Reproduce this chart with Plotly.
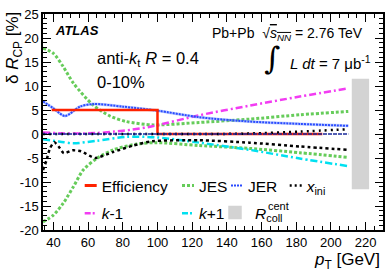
import plotly.graph_objects as go

# ---------------- data ----------------
pt_eff = [39, 100, 195]
eff = [5, 0, 0]

pt_jes_up = [34, 40, 45.7, 51.5, 63, 72.6, 82, 97.5, 124, 153, 182, 210]
jes_up = [17.9, 16.8, 14.0, 10.6, 6.0, 3.75, 2.6, 1.9, 2.4, 3.1, 4.0, 4.7]
pt_jes_lo = [34, 40, 45.7, 51.5, 57.2, 65, 74.5, 88, 99.4, 124, 153, 182, 210]
jes_lo = [-18.3, -16.9, -14.4, -11.0, -7.5, -5.1, -3.3, -2.1, -1.8, -2.4, -3.0, -3.9, -4.9]

pt_jer_up = [34, 40, 46.7, 55.3, 63, 80, 99.4, 124, 153, 182, 210]
jer_up = [6.8, 5.35, 3.75, 5.7, 6.25, 5.7, 4.9, 3.5, 2.6, 2.1, 1.7]
pt_jer_lo = [34, 210]
jer_lo = [0, 0]

pt_xini_up = [34, 100, 130, 153, 182, 210]
xini_up = [0, 0, 0, 0.1, 0.5, 1.0]
pt_xini_lo = [34, 36, 38, 40.5, 43, 46, 51, 56, 64, 74, 86, 97, 124, 153, 182, 210]
xini_lo = [-7.5, -5.5, -3.0, -1.7, -2.6, -4.0, -3.4, -3.6, -5.0, -3.8, -2.4, -1.5, -1.3, -1.8, -2.6, -3.3]

pt_km1 = [34, 50, 65, 75, 85, 97, 124, 153, 182, 210]
km1 = [0.3, 0.1, 0.2, 0.5, 0.9, 1.6, 3.9, 5.9, 7.8, 9.5]
pt_kp1 = [34, 43.9, 51.5, 65, 82, 99.4, 124, 153, 182, 210]
kp1 = [-1.1, -1.6, -1.95, -1.4, -0.6, -0.7, -1.8, -3.3, -5.1, -6.7]

rcoll_pt = [217]
rcoll_unc = [11.5]

x_ticks = [40, 60, 80, 100, 120, 140, 160, 180, 200, 220]
y_ticks = [-20, -15, -10, -5, 0, 5, 10, 15, 20, 25]
y_tick_labels = ["-20", "-15", "-10", "-5", "0", "5", "10", "15", "20", "25"]

# ---------------- style ----------------
FONT = "Liberation Sans, Arial, Helvetica, sans-serif"
RED = "#ff2200"
GREEN = "#66cc5a"
BLUE = "#2a4bff"
LBLUE = "rgba(120,150,255,0.45)"
MAG = "#f23cf2"
CYAN = "#00e0f0"
GREY = "#d3d3d3"

W, H = 390, 276
L, R, T, B = 43, 7, 14, 46


def px2x(px):
    return (px - L) / (W - L - R)


def py2y(py):
    return (H - B - py) / (H - T - B)


fig = go.Figure()

# R_coll band
fig.add_trace(go.Bar(x=rcoll_pt, y=[2 * u for u in rcoll_unc], base=[-u for u in rcoll_unc],
                     width=10, marker=dict(color=GREY, line=dict(width=0)),
                     showlegend=False, hoverinfo="skip"))


def curve(x, y, color, width, dash, smooth=0.8):
    fig.add_trace(go.Scatter(x=x, y=y, mode="lines", showlegend=False,
                             line=dict(color=color, width=width, dash=dash,
                                       shape="spline", smoothing=smooth),
                             hoverinfo="skip"))


curve(pt_jes_up, jes_up, GREEN, 3, "3px,2px")
curve(pt_jes_lo, jes_lo, GREEN, 3, "3px,2px")
curve(pt_km1, km1, MAG, 2.5, "7px,3px,2px,3px")
curve(pt_kp1, kp1, CYAN, 2.5, "7px,3px,2px,3px")
curve(pt_xini_lo, xini_lo, "black", 2.5, "3px,3px", 0.6)
curve(pt_jer_up, jer_up, LBLUE, 3, "solid")
curve(pt_jer_up, jer_up, BLUE, 2, "2px,1px")

fig.add_trace(go.Scatter(x=pt_eff, y=eff, mode="lines", showlegend=False,
                         line=dict(color=RED, width=2.5, shape="hv"), hoverinfo="skip"))
curve(pt_xini_up, xini_up, "black", 2.5, "2px,4px")
curve(pt_jer_lo, jer_lo, "#1a2a9a", 1.5, "4px,1px")

# ---------------- legend entries (no data, legend keys only) ----------------
def leg(name, color, width, dash, legend, group):
    fig.add_trace(go.Scatter(x=[None], y=[None], mode="lines", name=name,
                             line=dict(color=color, width=width, dash=dash),
                             legend=legend, legendgroup=group))


leg("Efficiency", RED, 3, "0px,18px,12px,30px", "legend", "a")
leg("<i>k</i>-1", MAG, 2.5, "0px,18px,6px,2px,2px,2px,30px", "legend", "b")
leg("JES", GREEN, 3, "0px,18px,3px,2px,3px,2px,3px,30px", "legend2", "c")
leg("<i>k</i>+1", CYAN, 2.5, "0px,18px,6px,2px,2px,2px,30px", "legend2", "d")
leg("JER", BLUE, 2, "0px,18px,2px,1px,2px,1px,2px,1px,2px,1px,2px,30px", "legend3", "e")
leg("<i>x</i><sub>ini</sub>", "black", 2.5, "0px,18px,2px,3px,2px,3px,2px,30px", "legend4", "g")
fig.add_trace(go.Bar(x=[None], y=[None], name="<i>R</i><sub>coll</sub>",
                     marker=dict(color=GREY, line=dict(color=GREY, width=1.5)),
                     legend="legend5", legendgroup="f"))

legfont = dict(family=FONT, size=15.5, color="black")
row1_top = 169
row_gap = 27


def legbox(text_px, top=row1_top):
    return dict(x=px2x(text_px - 40), y=py2y(top), xanchor="left", yanchor="top",
                bgcolor="rgba(0,0,0,0)", borderwidth=0, font=legfont,
                orientation="v", tracegroupgap=4.5, itemwidth=30)


fig.update_layout(
    legend=legbox(101.7),
    legend2=legbox(199),
    legend3=legbox(248),
    legend4=legbox(306.7),
    legend5=legbox(255, row1_top + row_gap),
)

# ---------------- annotations ----------------
ann = [
    dict(text="<b><i>ATLAS</i></b>", x=px2x(53), y=py2y(30), xanchor="left", yanchor="middle",
         font=dict(family=FONT, size=13)),
    dict(text="anti-<i>k</i><sub>t</sub> <i>R</i> = 0.4", x=px2x(95), y=py2y(59), xanchor="left",
         yanchor="middle", font=dict(family=FONT, size=16.5)),
    dict(text="0-10%", x=px2x(95), y=py2y(82), xanchor="left", yanchor="middle",
         font=dict(family=FONT, size=16.5)),
    dict(text="Pb+Pb  √<span style='text-decoration:overline'><i>s</i><sub><i>NN</i></sub></span> = 2.76 TeV",
         x=px2x(365), y=py2y(34), xanchor="right", yanchor="middle",
         font=dict(family=FONT, size=14)),
    dict(text="∫", x=px2x(272), y=py2y(58), xanchor="center", yanchor="middle",
         font=dict(family="DejaVu Serif, serif", size=31)),
    dict(text="<i>L dt</i> = 7 μb<sup>-1</sup>", x=px2x(373), y=py2y(62), xanchor="right",
         yanchor="middle", font=dict(family=FONT, size=15)),
    dict(text="cent", x=px2x(266), y=py2y(206), xanchor="left", yanchor="middle",
         font=dict(family=FONT, size=11)),
    dict(text="δ <i>R</i><sub>CP</sub> [%]", x=px2x(14), y=py2y(10), xanchor="center",
         yanchor="top", textangle=-90, font=dict(family=FONT, size=17)),
    dict(text="<i>p</i><sub>T</sub> [GeV]", x=px2x(382), y=py2y(261), xanchor="right",
         yanchor="middle", font=dict(family=FONT, size=17)),
]
for a in ann:
    a.update(xref="paper", yref="paper", showarrow=False)
    a["font"].setdefault("color", "black")

axis_common = dict(showgrid=False, zeroline=False, showline=True, linecolor="black",
                   linewidth=1.5, mirror="allticks", ticks="inside", ticklen=8,
                   tickwidth=1, tickcolor="black", automargin=False,
                   tickfont=dict(family=FONT, size=13, color="black"))

fig.update_layout(
    width=W, height=H,
    margin=dict(l=L, r=R, t=T, b=B, autoexpand=False),
    paper_bgcolor="white", plot_bgcolor="white",
    annotations=ann,
    barmode="overlay",
    xaxis=dict(range=[34, 230], tickmode="array", tickvals=x_ticks,
               minor=dict(tickmode="linear", tick0=0, dtick=5, ticklen=4, ticks="inside",
                          tickcolor="black"),
               **axis_common),
    yaxis=dict(range=[-20, 25], tickmode="array", tickvals=y_ticks, ticktext=y_tick_labels,
               minor=dict(tickmode="linear", tick0=0, dtick=1, ticklen=4, ticks="inside",
                          tickcolor="black"),
               **axis_common),
)

fig.write_html("out.html", config={"displayModeBar": False},
               post_script="document.body.style.margin='0';document.body.style.padding='0';")
